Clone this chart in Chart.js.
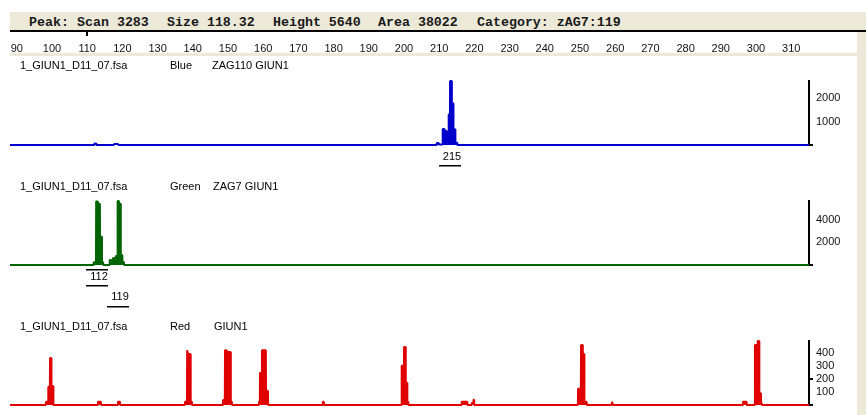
<!DOCTYPE html>
<html>
<head>
<meta charset="utf-8">
<script src="https://cdn.jsdelivr.net/npm/chart.js@4.4.1/dist/chart.umd.min.js"></script>
<style>
  body { margin: 0; width: 866px; height: 415px; background: #fff; position: relative; overflow: hidden; font-family: "Liberation Sans", Arial, sans-serif; }
  #bar { position: absolute; left: 10px; top: 12px; width: 856px; height: 18px; background: #ece9d8; border-bottom: 2px solid #000; }
  .hdr { position: absolute; top: 3px; line-height: 18px; font: bold 13.3px "Liberation Mono", monospace; color: #1a1a1a; white-space: pre; }
  #strip { position: absolute; left: 10px; top: 53px; width: 856px; height: 3px; background: #ece9d8; }
  #side { position: absolute; left: 857px; top: 32px; width: 9px; height: 383px; background: #ece9d8; }
  .lbl { position: absolute; font-size: 11px; line-height: 13px; color: #000; white-space: pre; }
  canvas { position: absolute; left: 0; }
</style>
</head>
<body>
<div id="bar">
  <span class="hdr" style="left:19px">Peak:</span>
  <span class="hdr" style="left:67px">Scan 3283</span>
  <span class="hdr" style="left:157px">Size 118.32</span>
  <span class="hdr" style="left:263px">Height 5640</span>
  <span class="hdr" style="left:368px">Area 38022</span>
  <span class="hdr" style="left:467px">Category: zAG7:119</span>
</div>
<div id="strip"></div>
<div id="side"></div>

<canvas id="axis" width="857" height="21" style="top:32px"></canvas>
<canvas id="blue" width="857" height="119" style="top:56px"></canvas>
<canvas id="green" width="857" height="135" style="top:175px"></canvas>
<canvas id="red" width="857" height="105" style="top:310px"></canvas>

<span class="lbl" style="left:20px;top:59px">1_GIUN1_D11_07.fsa</span>
<span class="lbl" style="left:170px;top:59px">Blue</span>
<span class="lbl" style="left:212px;top:59px">ZAG110 GIUN1</span>

<span class="lbl" style="left:20px;top:180px">1_GIUN1_D11_07.fsa</span>
<span class="lbl" style="left:170px;top:180px">Green</span>
<span class="lbl" style="left:213px;top:180px">ZAG7 GIUN1</span>

<span class="lbl" style="left:20px;top:320px">1_GIUN1_D11_07.fsa</span>
<span class="lbl" style="left:170px;top:320px">Red</span>
<span class="lbl" style="left:214px;top:320px">GIUN1</span>

<script>
// size axis (bp)
const sizeTicks = [90, 100, 110, 120, 130, 140, 150, 160, 170, 180, 190, 200, 210, 220, 230, 240, 250, 260, 270, 280, 290, 300, 310];
const sizeMin = 88.07;
const sizeMax = 315.06;
const cursorSize = 110;

// blue trace
const blueSize = [88.07, 112.0, 112.05, 112.6, 112.65, 117.6, 117.65, 118.8, 118.85,
  209.25, 209.3, 209.85, 209.9, 210.95, 211.0, 211.5, 211.55, 212.1, 212.15, 212.65, 212.7,
  213.05, 213.1, 213.55, 213.6, 214.0, 214.05, 214.55, 214.6, 215.1, 215.15, 315.06];
const blueRfu = [0, 0, 60, 60, 0, 0, 40, 40, 0,
  0, 85, 85, 20, 20, 680, 680, 600, 600, 140, 140, 1300,
  1300, 2720, 2720, 1770, 1770, 670, 670, 100, 100, 0, 0];
const blueTicks = [0, 1000, 2000];
const blueMarks = [0];
const blueMax = 2720;
const blueCallSize = [213.55];
const blueCallText = ['215'];
const blueCallBox = [false];

// green trace
const greenSize = [88.07, 111.8, 111.85, 112.5, 112.55, 113.0, 113.05, 113.6, 113.65, 114.15,
  114.2, 114.5, 114.55, 116.35, 116.4, 116.9, 116.95, 117.3, 117.35, 117.75,
  117.8, 118.1, 118.15, 118.6, 118.65, 119.0, 119.05, 119.5, 119.55, 119.95,
  120.0, 120.4, 120.45, 315.06];
const greenRfu = [0, 0, 250, 250, 5600, 5600, 5400, 5400, 2500, 2500,
  250, 250, 0, 0, 440, 440, 260, 260, 620, 620,
  260, 260, 800, 800, 5640, 5640, 5400, 5400, 880, 880,
  260, 260, 0, 0];
const greenTicks = [0, 2000, 4000];
const greenMarks = [0];
const greenMax = 5640;
const greenCallSize = [113.35, 119.4];
const greenCallText = ['112', '119'];
const greenCallBox = [true, false];

// red trace
const redSize = [88.07,
  98.25, 98.3, 98.9, 98.95, 99.4, 99.45, 99.8, 99.85, 100.35, 100.4,
  113.05, 113.1, 113.9, 113.95,
  118.7, 118.75, 119.3, 119.35,
  137.75, 137.8, 138.35, 138.4, 138.6, 138.65, 139.35, 139.4, 139.75, 139.8,
  148.55, 148.6, 149.1, 149.15, 149.6, 149.65, 150.75, 150.8, 151.1, 151.15,
  158.75, 158.8, 159.05, 159.1, 159.6, 159.65, 160.75, 160.8, 161.35, 161.4,
  176.9, 176.95, 177.2, 177.25,
  199.3, 199.35, 199.95, 200.0, 200.45, 200.5, 200.9, 200.95, 201.2, 201.25,
  216.35, 216.4, 217.95, 218.0,
  219.2, 219.25, 219.7, 219.75, 219.9, 219.95,
  249.4, 249.45, 250.25, 250.3, 250.75, 250.8, 251.2, 251.25, 251.85, 251.9,
  259.05, 259.1, 259.35, 259.4,
  296.25, 296.3, 297.3, 297.35,
  299.65, 299.7, 300.45, 300.5, 300.9, 300.95, 301.4, 301.45, 301.7, 301.75,
  315.06];
const redRfu = [0,
  0, 25, 25, 140, 140, 360, 360, 145, 145, 0,
  0, 25, 25, 0,
  0, 25, 25, 0,
  0, 25, 25, 420, 420, 390, 390, 25, 25, 0,
  0, 38, 38, 420, 420, 405, 405, 25, 25, 0,
  0, 25, 25, 245, 245, 420, 420, 107, 107, 0,
  0, 25, 25, 0,
  0, 300, 300, 445, 445, 170, 170, 25, 25, 0,
  0, 25, 25, 0,
  0, 15, 15, 40, 40, 0,
  0, 125, 125, 460, 460, 390, 390, 25, 25, 0,
  0, 25, 25, 0,
  0, 25, 25, 0,
  0, 460, 460, 490, 490, 90, 90, 25, 25, 0,
  0];
const redTicks = [0, 100, 200, 300, 400];
const redMarks = [0, 200];
const redMax = 490;

Chart.defaults.font.family = '"Liberation Sans", Arial, sans-serif';
Chart.defaults.font.size = 11;
Chart.defaults.color = '#000';

// allele call labels under the peaks (one plugin per panel)
function callLabels(sizes, texts, boxed) {
  return {
    id: 'callLabels',
    afterDraw(chart) {
      const ctx = chart.ctx;
      const x = chart.scales.x;
      const base = chart.chartArea.bottom;
      ctx.save();
      ctx.font = '11px "Liberation Sans", Arial, sans-serif';
      ctx.fillStyle = '#000';
      ctx.textAlign = 'center';
      ctx.textBaseline = 'middle';
      sizes.forEach((s, i) => {
        const px = Math.round(x.getPixelForValue(s));
        const ty = base + 11.5 + i * 20.5;
        ctx.fillText(texts[i], px, ty);
        ctx.fillRect(px - 13, Math.round(ty + 8.5), 22, 1.5);
        if (boxed[i]) ctx.fillRect(px - 13, Math.round(base + 3.5), 22, 1.5);
      });
      ctx.restore();
    }
  };
}

// cursor tick under the header line
const cursorMark = {
  id: 'cursorMark',
  afterDraw(chart) {
    const px = chart.scales.x.getPixelForValue(cursorSize);
    chart.ctx.fillStyle = '#000';
    chart.ctx.fillRect(Math.round(px) - 1, 0, 2, 4);
  }
};

new Chart(document.getElementById('axis'), {
  type: 'scatter',
  data: { datasets: [] },
  options: {
    responsive: false,
    animation: false,
    devicePixelRatio: 1,
    layout: { padding: { left: 10, right: 48, top: 0, bottom: 0 } },
    plugins: { legend: { display: false }, tooltip: { enabled: false } },
    scales: {
      x: {
        type: 'linear',
        min: sizeMin,
        max: sizeMax,
        afterBuildTicks: (s) => { s.ticks = sizeTicks.map((v) => ({ value: v })); },
        afterFit: (s) => { s.paddingLeft = 0; s.paddingRight = 0; },
        grid: { display: false, drawTicks: false },
        border: { display: false },
        ticks: { padding: 0, autoSkip: false, maxRotation: 0, minRotation: 0, color: '#111' }
      },
      y: { display: false }
    }
  },
  plugins: [cursorMark]
});

function panel(id, sizes, rfu, color, max, ticks, marks, pad, extra) {
  return new Chart(document.getElementById(id), {
    type: 'line',
    data: {
      datasets: [{
        data: sizes.map((s, i) => ({ x: s, y: rfu[i] })),
        borderColor: color,
        backgroundColor: color,
        fill: 'origin',
        borderWidth: 2,
        borderJoinStyle: 'bevel',
        pointRadius: 0,
        tension: 0,
        clip: 4
      }]
    },
    options: {
      responsive: false,
      animation: false,
      devicePixelRatio: 1,
      layout: { padding: pad },
      plugins: { legend: { display: false }, tooltip: { enabled: false } },
      scales: {
        x: { type: 'linear', display: false, min: sizeMin, max: sizeMax },
        y: {
          position: 'right',
          min: 0,
          max: max,
          afterBuildTicks: (s) => { s.ticks = ticks.map((v) => ({ value: v })); },
          afterFit: (s) => { s.width = 48; },
          border: { display: true, color: '#000', width: 2 },
          grid: {
            drawOnChartArea: false,
            drawTicks: true,
            tickLength: 4,
            lineWidth: 2,
            color: (c) => (c.tick && marks.includes(c.tick.value) ? '#000' : 'rgba(0,0,0,0)')
          },
          ticks: { padding: 3, autoSkip: false, color: '#111', callback: (v) => (v === 0 ? '' : String(v)) }
        }
      }
    },
    plugins: extra
  });
}

panel('blue', blueSize, blueRfu, '#0000cc', blueMax, blueTicks, blueMarks,
  { left: 10, right: 0, top: 25, bottom: 30 },
  [callLabels(blueCallSize, blueCallText, blueCallBox)]);
panel('green', greenSize, greenRfu, '#006400', greenMax, greenTicks, greenMarks,
  { left: 10, right: 0, top: 26, bottom: 45 },
  [callLabels(greenCallSize, greenCallText, greenCallBox)]);
panel('red', redSize, redRfu, '#e00000', redMax, redTicks, redMarks,
  { left: 10, right: 0, top: 31, bottom: 10 },
  []);
</script>
</body>
</html>
